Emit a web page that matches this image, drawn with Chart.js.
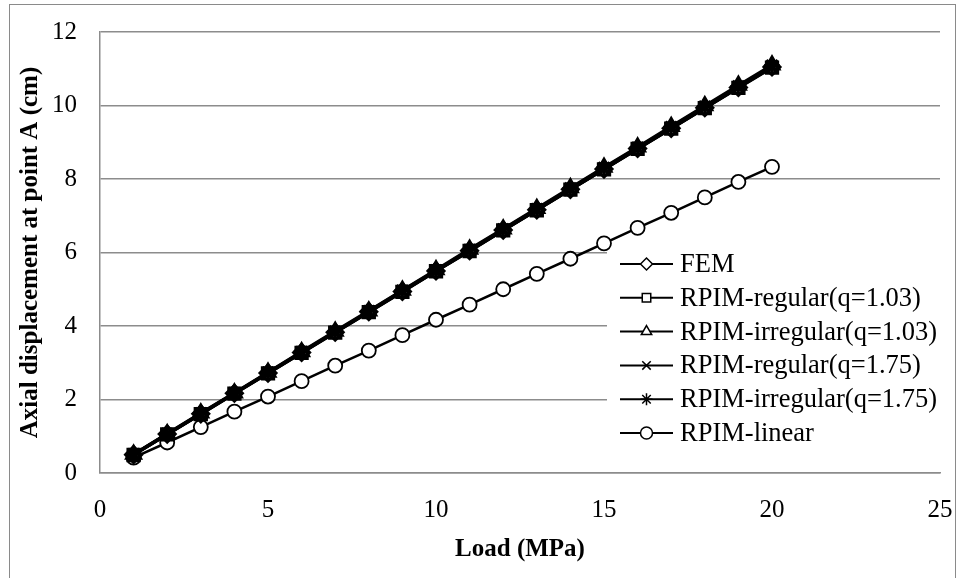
<!DOCTYPE html>
<html>
<head>
<meta charset="utf-8">
<script src="https://cdn.jsdelivr.net/npm/chart.js@4/dist/chart.umd.min.js"></script>
<style>
    html, body { margin: 0; padding: 0; background: #fff; }
    #wrap { position: relative; width: 962px; height: 578px; overflow: hidden; }
    #frame { position: absolute; left: 9px; top: 4px; width: 947px; height: 620px; border: 1px solid #8a8a8a; box-sizing: border-box; }
    canvas { position: absolute; left: 0; top: 0; }
</style>
</head>
<body>
<div id="wrap">
    <div id="frame"></div>
    <canvas id="chart" width="962" height="578"></canvas>
</div>
<script>
// ============================================
// DATA
// ============================================
const loads = [1, 2, 3, 4, 5, 6, 7, 8, 9, 10, 11, 12, 13, 14, 15, 16, 17, 18, 19, 20];

const fem          = [0.50, 1.06, 1.61, 2.17, 2.72, 3.28, 3.83, 4.39, 4.94, 5.50, 6.05, 6.61, 7.16, 7.72, 8.27, 8.83, 9.38, 9.94, 10.49, 11.05];
const regular103   = [0.49, 1.05, 1.60, 2.16, 2.71, 3.27, 3.82, 4.38, 4.93, 5.49, 6.04, 6.60, 7.15, 7.71, 8.26, 8.82, 9.37, 9.93, 10.48, 11.03];
const irregular103 = [0.51, 1.07, 1.63, 2.18, 2.74, 3.30, 3.86, 4.41, 4.97, 5.53, 6.09, 6.64, 7.20, 7.76, 8.32, 8.87, 9.43, 9.99, 10.55, 11.10];
const regular175   = [0.50, 1.05, 1.61, 2.16, 2.72, 3.27, 3.83, 4.38, 4.94, 5.49, 6.05, 6.60, 7.16, 7.71, 8.27, 8.82, 9.38, 9.93, 10.49, 11.04];
const irregular175 = [0.51, 1.06, 1.62, 2.17, 2.73, 3.29, 3.84, 4.40, 4.96, 5.51, 6.07, 6.63, 7.18, 7.74, 8.30, 8.85, 9.41, 9.97, 10.52, 11.08];
const linear       = [0.42, 0.83, 1.25, 1.67, 2.08, 2.50, 2.92, 3.33, 3.75, 4.17, 4.58, 5.00, 5.42, 5.83, 6.25, 6.67, 7.08, 7.50, 7.92, 8.33];

const seriesNames  = ['FEM', 'RPIM-regular(q=1.03)', 'RPIM-irregular(q=1.03)', 'RPIM-regular(q=1.75)', 'RPIM-irregular(q=1.75)', 'RPIM-linear'];
const seriesValues = [fem, regular103, irregular103, regular175, irregular175, linear];
const seriesMarks  = ['rectRot', 'rect', 'triangle', 'crossRot', 'star', 'circle'];

const xTicks = [0, 5, 10, 15, 20, 25];
const yTicks = [0, 2, 4, 6, 8, 10, 12];

// ============================================
// STYLE
// ============================================
const FONT = '"Liberation Serif", "Times New Roman", serif';
const GRID = '#8c8c8c';

// legend box sitting inside the plot area
const LEG = { x: 607, y: 244, w: 333, h: 210, lineX0: 620, lineX1: 673, textX: 680, row0: 264, gap: 33.8 };

const insideLegend = {
    id: 'insideLegend',
    beforeDatasetsDraw(chart) {
        const ctx = chart.ctx;
        ctx.save();
        ctx.fillStyle = '#fff';
        ctx.fillRect(LEG.x, LEG.y, LEG.w, LEG.h);
        chart.data.datasets.forEach((ds, i) => {
            const y = LEG.row0 + i * LEG.gap;
            ctx.strokeStyle = '#000';
            ctx.lineWidth = 2;
            ctx.beginPath();
            ctx.moveTo(LEG.lineX0, y);
            ctx.lineTo(LEG.lineX1, y);
            ctx.stroke();
            ctx.fillStyle = '#fff';
            ctx.lineWidth = 1.5;
            Chart.helpers.drawPoint(ctx, { pointStyle: ds.pointStyle, radius: 6, rotation: 0, borderWidth: 1.5 }, (LEG.lineX0 + LEG.lineX1) / 2, y);
            ctx.fillStyle = '#000';
            ctx.font = '26.5px ' + FONT;
            ctx.textBaseline = 'middle';
            ctx.textAlign = 'left';
            ctx.fillText(ds.label, LEG.textX, y + 1);
        });
        ctx.restore();
    }
};

// ============================================
// CHART
// ============================================
const datasets = seriesNames.map((name, i) => ({
    label: name,
    data: loads.map((x, k) => ({ x: x, y: seriesValues[i][k] })),
    borderColor: '#000',
    borderWidth: i === 5 ? 2.5 : 3.2,
    pointStyle: seriesMarks[i],
    pointRadius: i === 5 ? 7 : 8,
    pointBorderWidth: i === 5 ? 1.8 : 3,
    pointBorderColor: '#000',
    pointBackgroundColor: i === 5 ? '#fff' : 'rgba(0,0,0,0)',
    tension: 0
}));

new Chart(document.getElementById('chart'), {
    type: 'line',
    data: { datasets },
    plugins: [insideLegend],
    options: {
        responsive: false,
        animation: false,
        layout: { padding: { left: 0, top: 32, right: 22, bottom: 0 } },
        plugins: {
            legend: { display: false },
            tooltip: { enabled: false }
        },
        scales: {
            x: {
                type: 'linear',
                min: 0,
                max: 25,
                afterBuildTicks: (s) => { s.ticks = xTicks.map(v => ({ value: v })); },
                afterFit: (s) => { s.height = 105; s.paddingLeft = 0; s.paddingRight = 0; },
                grid: { display: false, drawTicks: false },
                border: { display: true, color: GRID, width: 1.5 },
                ticks: { color: '#000', padding: 22, font: { family: FONT, size: 25 } },
                title: {
                    display: true,
                    text: 'Load (MPa)',
                    color: '#000',
                    font: { family: FONT, size: 25, weight: 'bold' },
                    padding: { top: 0, bottom: 13 }
                }
            },
            y: {
                min: 0,
                max: 12,
                afterBuildTicks: (s) => { s.ticks = yTicks.map(v => ({ value: v })); },
                afterFit: (s) => { s.width = 100; s.paddingTop = 0; s.paddingBottom = 0; },
                grid: { color: GRID, lineWidth: 1.5, drawTicks: false },
                border: { display: true, color: GRID, width: 1.5 },
                ticks: { color: '#000', padding: 23, font: { family: FONT, size: 25 } },
                title: {
                    display: true,
                    text: 'Axial displacement at point A (cm)',
                    color: '#000',
                    font: { family: FONT, size: 25, weight: 'bold' },
                    padding: { top: 16, bottom: 0 }
                }
            }
        }
    }
});
</script>
</body>
</html>
